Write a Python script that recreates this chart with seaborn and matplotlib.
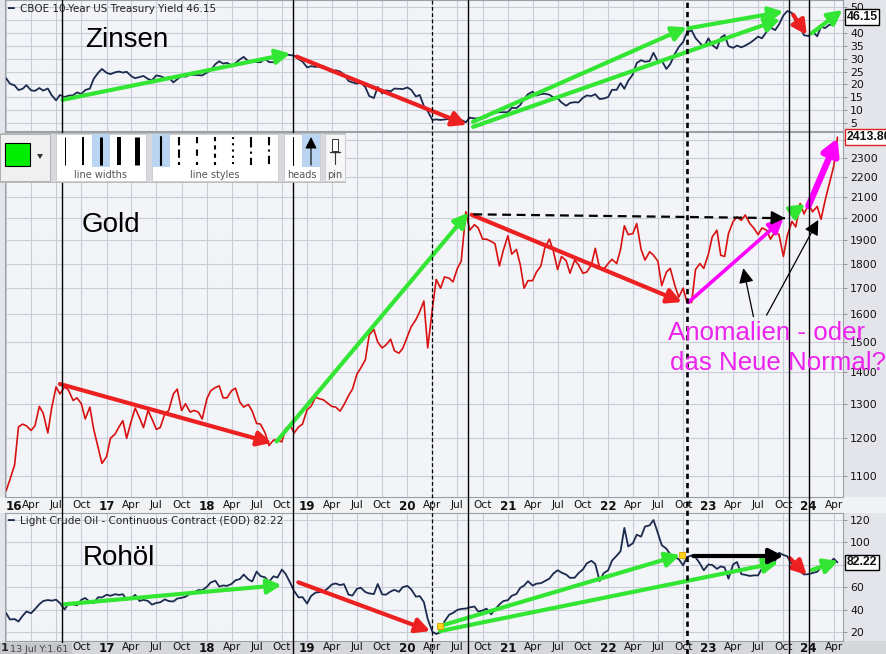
import pandas as pd
import numpy as np
import matplotlib
matplotlib.use("Agg")
import matplotlib.pyplot as plt
import matplotlib.dates as mdates
from matplotlib.patches import FancyArrowPatch, Rectangle, Polygon
from matplotlib.ticker import FixedLocator, FuncFormatter, NullLocator
import seaborn as sns

# ---------------- data (semi-monthly: 1st and 15th of each month) ----------------
period_start = "2016-01-01"
period_last_month = "2024-04-01"

yield_x10 = [
    22.4, 20.3, 19.6, 17.8, 18.3, 19.7, 17.7, 17.5, 18.6, 17.6, 18.4, 15.8, 13.8, 15.9, 15.1, 15.6, 15.8, 16.9, 16.3, 17.8, 18.4, 22.2, 24.5, 26.0,
    24.5, 24.0, 24.7, 25.0, 24.6, 24.9, 23.2, 22.4, 22.9, 23.3, 22.1, 21.6, 23.5, 23.2, 22.5, 22.7, 20.8, 22.0, 23.3, 23.0, 23.7, 23.7, 23.6, 23.5,
    24.6, 25.5, 27.9, 29.0, 28.1, 28.4, 27.4, 28.3, 29.7, 30.7, 29.0, 29.2, 28.7, 28.6, 29.9, 28.7, 28.6, 30.0, 31.6, 31.6, 31.4, 31.1, 29.8, 28.9,
    26.6, 27.1, 26.8, 27.0, 27.2, 25.9, 24.9, 25.5, 25.0, 23.9, 21.3, 20.8, 20.3, 20.9, 18.9, 15.5, 14.7, 19.0, 16.5, 17.7, 17.3, 18.4, 18.3, 18.2,
    18.8, 17.9, 15.3, 15.9, 11.6, 9.6, 6.2, 6.4, 6.2, 6.4, 6.6, 7.2, 6.8, 6.2, 5.3, 7.1, 6.8, 6.8, 6.8, 7.3, 8.6, 9.0, 9.2, 9.2,
    9.2, 10.9, 10.8, 12.0, 14.4, 16.2, 17.2, 15.7, 16.2, 16.4, 16.0, 15.0, 14.6, 13.0, 11.7, 12.8, 13.1, 13.0, 14.8, 15.7, 15.5, 16.2, 14.3, 14.5,
    15.1, 17.9, 17.9, 20.5, 18.3, 21.4, 23.9, 28.3, 29.4, 28.8, 29.1, 32.3, 28.9, 29.3, 26.0, 27.9, 31.9, 34.5, 36.5, 40.2, 41.0, 38.0, 36.1, 34.5,
    37.9, 35.3, 33.9, 38.1, 39.2, 34.9, 34.2, 35.1, 34.4, 35.1, 36.1, 37.2, 38.6, 37.9, 40.5, 42.1, 41.1, 43.3, 46.8, 48.5, 47.8, 44.5, 42.2, 39.1,
    38.8, 40.6, 38.7, 42.4, 41.9, 43.1, 43.3, 46.15,
]

gold = [
    1062, 1090, 1128, 1232, 1240, 1235, 1222, 1235, 1292, 1272, 1215, 1288, 1352, 1330, 1352, 1342, 1310, 1318, 1300, 1255, 1290, 1225, 1175, 1132,
    1150, 1200, 1212, 1232, 1250, 1200, 1250, 1287, 1258, 1230, 1280, 1255, 1225, 1230, 1270, 1280, 1330, 1345, 1280, 1300, 1275, 1280, 1275, 1255,
    1315, 1340, 1350, 1355, 1318, 1318, 1340, 1348, 1305, 1290, 1298, 1278, 1242, 1240, 1215, 1180, 1195, 1195, 1190, 1228, 1235, 1215, 1232, 1240,
    1282, 1292, 1320, 1315, 1312, 1303, 1292, 1290, 1278, 1297, 1325, 1345, 1392, 1412, 1440, 1525, 1545, 1500, 1480, 1490, 1510, 1470, 1462, 1478,
    1520, 1555, 1580, 1610, 1650, 1480, 1620, 1735, 1700, 1745, 1740, 1725, 1780, 1810, 2030, 1945, 1970, 1955, 1905, 1905, 1895, 1885, 1790, 1855,
    1920, 1840, 1860, 1795, 1700, 1730, 1730, 1765, 1790, 1865, 1905, 1855, 1775, 1830, 1812, 1760, 1815, 1795, 1760, 1765, 1795, 1865, 1780, 1775,
    1800, 1818, 1800, 1860, 1965, 1925, 1930, 1975, 1860, 1815, 1850, 1835, 1810, 1710, 1765, 1780, 1710, 1665, 1700, 1645, 1645, 1775, 1800, 1780,
    1840, 1915, 1945, 1835, 1830, 1930, 1985, 2005, 1990, 2015, 1975, 1955, 1925, 1955, 1945, 1905, 1940, 1925, 1830, 1920, 1985, 1960, 2070, 2020,
    2065, 2030, 2055, 1995, 2085, 2160, 2255, 2413.8,
]

oil = [
    37.0, 31.2, 31.6, 29.4, 34.4, 38.3, 36.8, 40.4, 44.8, 47.7, 48.6, 48.0, 48.9, 45.9, 40.1, 45.7, 44.7, 43.9, 48.8, 50.4, 46.9, 45.8, 51.1, 50.9,
    53.3, 52.4, 53.8, 53.1, 53.8, 48.9, 50.2, 53.2, 47.7, 48.8, 47.7, 44.5, 46.0, 46.5, 49.2, 47.6, 47.3, 49.9, 50.6, 51.5, 54.3, 55.3, 57.5, 57.3,
    60.4, 64.3, 65.8, 60.6, 61.6, 61.2, 63.0, 66.2, 67.3, 71.3, 67.0, 65.1, 74.0, 70.0, 68.8, 65.0, 69.8, 68.6, 75.8, 71.8, 63.7, 56.5, 50.9, 51.2,
    45.4, 52.1, 55.3, 55.6, 56.0, 58.5, 62.5, 63.4, 61.9, 62.8, 53.3, 52.6, 58.5, 59.6, 55.7, 54.5, 53.9, 62.9, 53.6, 53.4, 56.2, 57.7, 55.9, 60.1,
    61.2, 58.1, 51.6, 52.1, 46.8, 31.7, 20.3, 18.3, 19.8, 29.4, 35.4, 37.1, 39.8, 40.6, 41.0, 42.0, 42.8, 38.3, 39.2, 40.9, 35.8, 40.1, 44.6, 47.6,
    48.5, 52.4, 54.0, 59.5, 61.5, 65.4, 61.5, 63.2, 63.6, 65.4, 67.7, 72.1, 75.2, 73.1, 71.3, 68.4, 68.5, 72.6, 75.9, 81.3, 83.6, 80.8, 65.6, 72.4,
    75.2, 83.8, 88.2, 92.1, 113.0, 96.4, 99.3, 106.9, 105.2, 114.2, 115.3, 120.0, 108.4, 97.6, 94.4, 89.4, 86.6, 85.1, 79.5, 87.0, 88.4, 86.9, 81.2, 75.1,
    80.3, 79.9, 76.4, 78.6, 77.7, 67.6, 80.4, 82.5, 71.7, 71.1, 70.1, 70.6, 70.6, 76.9, 81.4, 80.9, 83.6, 90.8, 88.8, 87.7, 80.4, 76.7, 74.1, 71.4,
    71.7, 72.7, 73.8, 78.0, 79.9, 81.0, 85.5, 82.22,
]

# axis ticks (labels under the last-value boxes are covered in the original)
yield_ticks = [5, 10, 15, 20, 25, 30, 35, 40, 45, 50]
gold_ticks = [1100, 1200, 1300, 1400, 1500, 1600, 1700, 1800, 1900, 2000, 2100, 2200, 2300, 2400]
oil_ticks = [20, 40, 60, 80, 100, 120]
covered_labels = {45, 2400, 80}

# annotations (start date, start value, end date, end value, kind)
zins_arrows = [
    ("2016-07-24", 14.0, "2018-11-01", 32.0, "green"),
    ("2018-11-24", 30.8, "2020-08-04", 4.3, "red"),
    ("2020-08-27", 3.5, "2023-09-19", 45.3, "green"),
    ("2020-08-27", 5.5, "2022-10-14", 42.2, "green"),
    ("2022-10-20", 41.8, "2023-10-01", 48.3, "green"),
    ("2023-11-06", 47.0, "2023-12-25", 39.2, "red"),
    ("2024-01-12", 39.9, "2024-05-03", 48.9, "green"),
]
gold_arrows = [
    ("2016-07-15", 1361, "2018-08-25", 1187, "red"),
    ("2018-09-12", 1191, "2020-08-10", 2026, "green"),
    ("2020-08-22", 2016, "2022-09-26", 1646, "red"),
    ("2022-10-20", 1645, "2023-10-01", 1997, "magenta"),
    ("2023-11-06", 2028, "2023-12-19", 2067, "green"),
    ("2023-12-31", 2057, "2024-04-15", 2408, "magenta_thick"),
]
gold_dashed = ("2020-08-28", 2018, "2023-10-07", 2000)
gold_pointers = [
    ("2023-06-14", 1591, "2023-05-08", 1781),
    ("2023-08-01", 1597, "2024-02-05", 1992),
]
oil_arrows = [
    ("2016-07-27", 44.7, "2018-09-30", 62.0, "green"),
    ("2018-11-30", 64.4, "2020-03-24", 20.9, "red"),
    ("2020-04-29", 25.4, "2022-09-20", 88.8, "green"),
    ("2020-04-29", 20.9, "2023-09-13", 82.2, "green"),
    ("2022-11-07", 87.9, "2023-10-01", 87.9, "black"),
    ("2023-10-25", 85.8, "2023-12-25", 70.9, "red"),
    ("2024-01-12", 75.4, "2024-04-18", 83.4, "green"),
]
oil_markers = [("2020-04-29", 25.4), ("2022-09-27", 88.8)]

vlines_solid = ["2016-07-24", "2018-11-09", "2020-08-10", "2023-10-23", "2024-01-01"]
vline_dashed_thin = "2020-03-31"
vline_dashed_thick = "2022-10-14"

# ---------------- figure ----------------
W, H = 887, 654
sns.set_theme(style="white")
plt.rcParams["font.family"] = ["DejaVu Sans"]

months = pd.date_range(period_start, period_last_month, freq="MS")
dates = pd.DatetimeIndex([d for m in months for d in (m, m + pd.Timedelta(days=14))])
assert len(dates) == len(gold) == len(oil) == len(yield_x10)
df = pd.DataFrame({"date": dates, "yield": yield_x10, "gold": gold, "oil": oil})

fig = plt.figure(figsize=(W / 100, H / 100), dpi=100, facecolor="#e4e5ea")

def px_axes(x0, y0, x1, y1):
    return fig.add_axes([x0 / W, 1 - y1 / H, (x1 - x0) / W, (y1 - y0) / H])

# background strips
fig.add_artist(Rectangle((0, 1 - 513 / H), 1, 16 / H, transform=fig.transFigure,
                         fc="#f1f2f4", ec="none", zorder=-1))
fig.add_artist(Rectangle((0, 0), 1, 13 / H, transform=fig.transFigure,
                         fc="#d6d7db", ec="none", zorder=-1))

XMIN, XMAX = pd.Timestamp("2015-12-28"), pd.Timestamp("2024-05-05")
qticks = pd.date_range("2016-01-01", "2024-04-01", freq="QS")
qnums = mdates.date2num(qticks.to_pydatetime())
qlabels = [f"{d.year % 100:02d}" if d.month == 1 else d.strftime("%b") for d in qticks]

ax_top = px_axes(5, 0, 843, 131)
ax_gold = px_axes(5, 132, 843, 497)
ax_oil = px_axes(5, 513, 843, 641)

navy = "#1b2a4e"
sns.lineplot(data=df, x="date", y="yield", ax=ax_top, color=navy, lw=1.3, estimator=None)
sns.lineplot(data=df, x="date", y="gold", ax=ax_gold, color="#d81010", lw=1.2, estimator=None)
sns.lineplot(data=df, x="date", y="oil", ax=ax_oil, color=navy, lw=1.3, estimator=None)

def style(ax, show_x, hidden_first=0, xpad=2.5):
    ax.set_facecolor("#f3f4f8")
    ax.set_xlim(mdates.date2num(XMIN), mdates.date2num(XMAX))
    ax.xaxis.set_major_locator(FixedLocator(qnums))
    ax.grid(True, color="#c9cdd6", lw=0.8)
    ax.yaxis.tick_right()
    ax.tick_params(axis="y", labelsize=7.8, length=3, width=0.6, color="#888888",
                   pad=2, labelcolor="#111111", right=True, left=False)
    ax.tick_params(axis="x", length=0, pad=xpad, labelsize=7.6, labelcolor="#111111")
    if show_x:
        labs = [("" if i < hidden_first else t) for i, t in enumerate(qlabels)]
        ax.set_xticklabels(labs)
        for i, (lab, d) in enumerate(zip(ax.get_xticklabels(), qticks)):
            if d.month == 1:
                lab.set_fontweight("bold")
                lab.set_fontsize(8.6)
            if i == 0:
                lab.set_horizontalalignment("left")
    else:
        ax.set_xticklabels([])
    for s in ax.spines.values():
        s.set_color("#9a9fa8")
        s.set_linewidth(0.8)
    ax.set_xlabel("")
    ax.set_ylabel("")

style(ax_top, False)
style(ax_gold, True)
style(ax_oil, True, hidden_first=3, xpad=1.0)

yfmt = FuncFormatter(lambda v, p: "" if round(v) in covered_labels else f"{v:.0f}")

ax_top.set_ylim(1.9, 52.8)
ax_top.yaxis.set_major_locator(FixedLocator(yield_ticks))
ax_top.yaxis.set_major_formatter(yfmt)

ax_gold.set_yscale("log")
ax_gold.set_ylim(1047, 2443)
ax_gold.yaxis.set_major_locator(FixedLocator(gold_ticks))
ax_gold.yaxis.set_major_formatter(yfmt)
ax_gold.yaxis.set_minor_locator(NullLocator())
ax_gold.tick_params(axis="y", which="minor", length=0)

ax_oil.set_ylim(12, 126.3)
ax_oil.yaxis.set_major_locator(FixedLocator(oil_ticks))
ax_oil.yaxis.set_major_formatter(yfmt)

# ---------------- arrows ----------------
COL = {"green": "#33e633", "red": "#ec2020", "magenta": "#ff00ff",
       "magenta_thick": "#ff00ff", "black": "#000000"}

def dn(s):
    return mdates.date2num(pd.Timestamp(s).to_pydatetime())

def draw_arrow(ax, d0, v0, d1, v1, kind):
    lw, hl, hw = 3.0, 8.5, 4.4
    if kind == "magenta_thick":
        lw, hl, hw = 4.6, 9, 5
    if kind == "magenta":
        lw = 2.6
    p = FancyArrowPatch((dn(d0), v0), (dn(d1), v1),
                        arrowstyle=f"-|>,head_length={hl},head_width={hw}",
                        mutation_scale=1, color=COL[kind], lw=lw,
                        shrinkA=0, shrinkB=0, zorder=6, clip_on=False)
    ax.add_patch(p)

for a in zins_arrows:
    draw_arrow(ax_top, *a)
for a in gold_arrows:
    draw_arrow(ax_gold, *a)
for a in oil_arrows:
    draw_arrow(ax_oil, *a)

d0, v0, d1, v1 = gold_dashed
ax_gold.plot([dn(d0), dn(d1)], [v0, v1], color="black", lw=1.6, ls=(0, (4, 2.5)), zorder=6)
ax_gold.add_patch(FancyArrowPatch((dn(d1) - 25, v1 * 1.0005), (dn(d1), v1),
                                  arrowstyle="-|>,head_length=8,head_width=4",
                                  mutation_scale=1, color="black", lw=1.5,
                                  shrinkA=0, shrinkB=0, zorder=6))
for d0, v0, d1, v1 in gold_pointers:
    ax_gold.add_patch(FancyArrowPatch((dn(d0), v0), (dn(d1), v1),
                                      arrowstyle="-|>,head_length=9,head_width=4.5",
                                      mutation_scale=1, color="black", lw=0.9,
                                      shrinkA=0, shrinkB=0, zorder=6))
for d, v in oil_markers:
    ax_oil.plot([dn(d)], [v], marker="s", ms=4.5, color="#ffd21a", mec="#d8a000",
                mew=0.6, zorder=7)

# ---------------- value boxes ----------------
def value_box(ax, val, text, ec):
    ax.annotate(text, xy=(1.0, val), xycoords=("axes fraction", "data"),
                xytext=(2.5, 0), textcoords="offset points", ha="left", va="center",
                fontsize=8.8, fontweight="bold", color="#111111", annotation_clip=False,
                family=["Liberation Sans", "DejaVu Sans"],
                bbox=dict(boxstyle="square,pad=0.15", fc="white", ec=ec, lw=1.0), zorder=10)

value_box(ax_top, yield_x10[-1], f"{yield_x10[-1]:.2f}", "black")
value_box(ax_gold, gold[-1], f"{gold[-1]:.2f}", "#e02020")
value_box(ax_oil, oil[-1], f"{oil[-1]:.2f}", "black")

# ---------------- vertical marker lines across all panels ----------------
ov = fig.add_axes([5 / W, 0, 838 / W, 1])
ov.set_xlim(mdates.date2num(XMIN), mdates.date2num(XMAX))
ov.set_ylim(0, 1)
ov.axis("off")
ov.patch.set_visible(False)
ov.set_zorder(1)
for d in vlines_solid:
    ov.axvline(dn(d), color="black", lw=1.0)
ov.axvline(dn(vline_dashed_thin), color="black", lw=0.9, ls=(0, (3, 2)))
ov.axvline(dn(vline_dashed_thick), color="black", lw=1.9, ls=(0, (2, 1.5)))

# ---------------- toolbar widget ----------------
tb = fig.add_axes([0, 1 - 183 / H, 346 / W, 51 / H])
tb.set_xlim(0, 346)
tb.set_ylim(183, 132)
tb.axis("off")
tb.set_zorder(2)
tb.add_patch(Rectangle((0, 133), 346, 49, fc="#d8d9dd", ec="#b5b5b5", lw=0.6))
tb.add_patch(Rectangle((0, 134), 50, 47, fc="#f0f0f0", ec="#a8a8a8", lw=0.6))
tb.add_patch(Rectangle((5, 143), 25, 23, fc="#00ee00", ec="black", lw=0.8))
tb.add_patch(Polygon([(37, 154), (43, 154), (40, 159)], closed=True, fc="#333333", ec="none"))
# line widths
tb.add_patch(Rectangle((56, 134), 90, 47, fc="white", ec="#c4c4c4", lw=0.5))
tb.add_patch(Rectangle((92, 134), 18, 33, fc="#b9d5f2", ec="none"))
for x, w in zip([65, 83, 101, 119, 137], [1, 2, 3, 4, 5]):
    tb.plot([x, x], [137, 165], color="black", lw=w * 0.72, solid_capstyle="butt")
tb.text(101, 175, "line widths", ha="center", va="center", fontsize=7, color="#555555")
# line styles
tb.add_patch(Rectangle((152, 134), 126, 47, fc="white", ec="#c4c4c4", lw=0.5))
tb.add_patch(Rectangle((152, 134), 18, 33, fc="#b9d5f2", ec="none"))
styles = ["-", (0, (4, 2)), (0, (3, 3)), (0, (2, 2)), (0, (1, 2)), (0, (5, 2, 1, 2)), (0, (4, 2, 1, 2))]
for x, st in zip([161, 179, 197, 215, 233, 251, 269], styles):
    tb.plot([x, x], [137, 165], color="black", lw=1.5, ls=st, dash_capstyle="butt")
tb.text(215, 175, "line styles", ha="center", va="center", fontsize=7, color="#555555")
# heads
tb.add_patch(Rectangle((284, 134), 36, 47, fc="white", ec="#c4c4c4", lw=0.5))
tb.add_patch(Rectangle((302, 134), 18, 33, fc="#b9d5f2", ec="none"))
tb.plot([293, 293], [137, 165], color="black", lw=0.8)
tb.add_patch(FancyArrowPatch((311, 165), (311, 137), arrowstyle="-|>,head_length=7,head_width=3.5",
                             mutation_scale=1, color="black", lw=0.8, shrinkA=0, shrinkB=0))
tb.text(302, 175, "heads", ha="center", va="center", fontsize=7, color="#555555")
# pin
tb.add_patch(Rectangle((325, 134), 20, 47, fc="#f6f6f6", ec="#c4c4c4", lw=0.5))
tb.add_patch(Rectangle((332, 139), 6, 12, fc="white", ec="#333333", lw=0.7))
tb.plot([330, 340], [152, 152], color="#333333", lw=1.0)
tb.plot([335, 335], [152, 164], color="#333333", lw=0.8)
tb.text(335, 175, "pin", ha="center", va="center", fontsize=7, color="#555555")

# ---------------- texts ----------------
def ftext(x, y, s, **kw):
    return fig.text(x / W, 1 - y / H, s, **kw)

big = dict(fontsize=20, color="black", family=["Liberation Sans", "DejaVu Sans"], va="baseline", zorder=5)
ftext(85, 47, "Zinsen", **big)
ftext(82, 232, "Gold", **big)
ftext(83, 565, "Rohöl", **big)

mag = dict(fontsize=18.6, color="#ee22ee", family=["Liberation Sans", "DejaVu Sans"], va="baseline", zorder=5)
ftext(668, 340, "Anomalien - oder", **mag)
ftext(670, 370, "das Neue Normal?", **mag)

leg = dict(fontsize=7.5, color="#222222", va="center", zorder=5)
ftext(7, 9, "━", color=navy, fontsize=8, va="center", zorder=5)
ftext(20, 9, f"CBOE 10-Year US Treasury Yield {yield_x10[-1]:.2f}", **leg)
ftext(7, 521, "━", color=navy, fontsize=8, va="center", zorder=5)
ftext(20, 521, f"Light Crude Oil - Continuous Contract (EOD) {oil[-1]:.2f}", **leg)

fig.add_artist(Rectangle((0, 0), 72 / W, 11 / H, transform=fig.transFigure,
                         fc="#c6c7cb", ec="none", zorder=4))
ftext(1, 648, "1", fontsize=8, fontweight="bold", va="center", zorder=5)
ftext(10, 649, "13 Jul Y:1.61", fontsize=6.8, color="#444444", va="center", zorder=5)

fig.savefig("out.png", dpi=100, facecolor=fig.get_facecolor())
